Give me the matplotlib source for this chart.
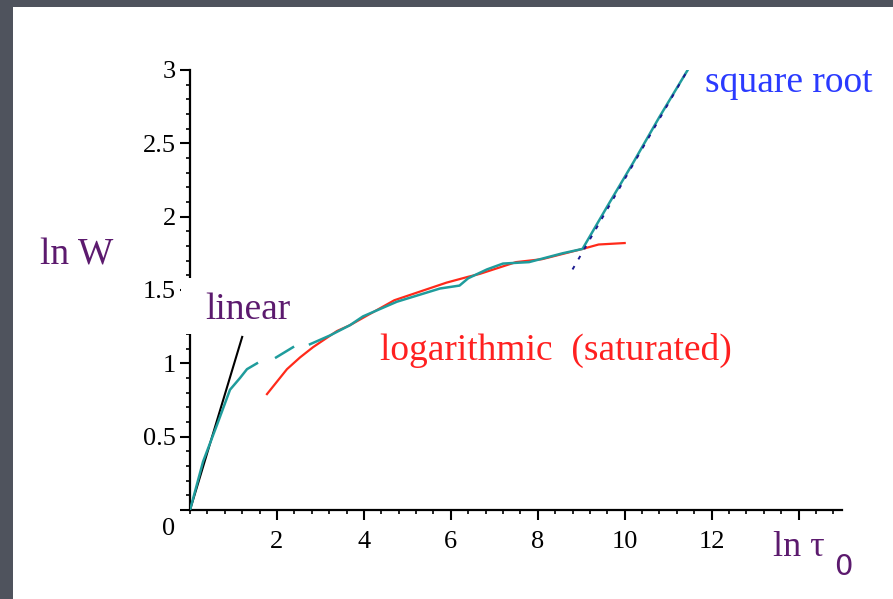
import matplotlib
matplotlib.use("Agg")
import matplotlib.pyplot as plt
from matplotlib.patches import Rectangle
from matplotlib.ticker import MultipleLocator
import numpy as np

# dane (ln tau_0, ln W)
data_x = [0.0, 0.3, 0.62, 0.92, 1.15, 1.31, 1.54, np.nan, 1.98, 2.37, np.nan,
          2.76, 3.22, 3.68, 3.98, 4.76, 5.75, 6.2, 6.4, 6.83, 7.2, 7.8, 8.57,
          9.03, 9.6, 10.2, 10.8, 11.45]
data_y = [0.0, 0.33, 0.58, 0.82, 0.9, 0.96, 1.0, np.nan, 1.04, 1.11, np.nan,
          1.13, 1.19, 1.26, 1.32, 1.42, 1.51, 1.53, 1.58, 1.64, 1.68, 1.69, 1.75,
          1.78, 2.07, 2.37, 2.68, 3.0]

linear_x = [0.0, 1.2]
linear_y = [0.0, 1.18]

log_x = [1.77, 2.23, 2.53, 2.83, 3.38, 3.68, 4.7, 5.9, 6.4, 6.67, 7.5, 8.1, 9.03, 9.4, 10.0]
log_y = [0.79, 0.96, 1.04, 1.11, 1.22, 1.26, 1.43, 1.55, 1.59, 1.61, 1.69, 1.71, 1.78, 1.81, 1.82]

sqrt_x = [8.8, 11.45]
sqrt_y = [1.64, 3.0]

xticks = [2, 4, 6, 8, 10, 12, 14]
xtick_labels = ['2', '4', '6', '8', '10', '12', '']
yticks = [0, 0.5, 1, 1.5, 2, 2.5, 3]
ytick_labels = ['', '0.5', '1', '1.5', '2', '2.5', '3']

serif = 'Liberation Serif'
purple = '#5c1a6e'

fig = plt.figure(figsize=(8.93, 5.99), dpi=100, facecolor='#4f535d')
# biale tlo slajdu
fig.add_artist(Rectangle((13 / 893, 0), 1, 1 - 7 / 599, transform=fig.transFigure,
                         facecolor='white', edgecolor='none', zorder=-5))

ax = fig.add_axes([0.2128, 0.1486, 0.7301, 0.7346])
ax.set_facecolor('none')
ax.set_xlim(0, 15)
ax.set_ylim(0, 3)
ax.spines['top'].set_visible(False)
ax.spines['right'].set_visible(False)
for s in ('left', 'bottom'):
    ax.spines[s].set_linewidth(1.6)

ax.set_xticks(xticks)
ax.set_xticklabels(xtick_labels, fontfamily=serif, fontsize=19)
ax.set_yticks(yticks)
ax.set_yticklabels(ytick_labels, fontfamily=serif, fontsize=19)
ax.xaxis.set_minor_locator(MultipleLocator(0.4))
ax.yaxis.set_minor_locator(MultipleLocator(0.1))
ax.tick_params(which='major', direction='out', length=7, width=1.5)
ax.tick_params(which='minor', direction='out', length=3, width=1.2)
ax.tick_params(axis='x', which='major', pad=8)
ax.tick_params(axis='y', which='major', pad=3)

# przerwa w osi y pod napisem "linear"
ax.add_patch(Rectangle((-0.2, 1.2), 0.32, 0.38, facecolor='white', edgecolor='none',
                       zorder=2.6, clip_on=False))

ax.plot(linear_x, linear_y, color='black', lw=1.5, zorder=3)
ax.plot(log_x, log_y, color='#ff2a1a', lw=1.6, zorder=3)
ax.plot(data_x, data_y, color='#1f9c9c', lw=1.8, zorder=4)
ax.plot(sqrt_x, sqrt_y, color='#1a1a90', lw=1.4, dashes=(2, 4), zorder=5)

ax.text(-0.5, -0.13, '0', fontfamily=serif, fontsize=19, ha='center', va='center')

fig.text(40 / 893, 1 - 255 / 599, 'ln W', fontfamily=serif, fontsize=27,
         color=purple, ha='left', va='center')
fig.text(205 / 893, 1 - 310 / 599, 'linear', fontfamily=serif, fontsize=27,
         color=purple, ha='left', va='center')
fig.text(380 / 893, 1 - 350 / 599, 'logarithmic  (saturated)', fontfamily=serif,
         fontsize=27, color='#ff2020', ha='left', va='center')
fig.text(705 / 893, 1 - 83 / 599, 'square root', fontfamily=serif, fontsize=27,
         color='#2a3aff', ha='left', va='center')
fig.text(773 / 893, 1 - 548 / 599, 'ln τ', fontfamily=serif, fontsize=26,
         color=purple, ha='left', va='center')
fig.text(834 / 893, 1 - 567 / 599, '0', fontfamily='DejaVu Sans', fontsize=21,
         color=purple, ha='left', va='center')

fig.savefig('out.png', dpi=100, facecolor=fig.get_facecolor())
